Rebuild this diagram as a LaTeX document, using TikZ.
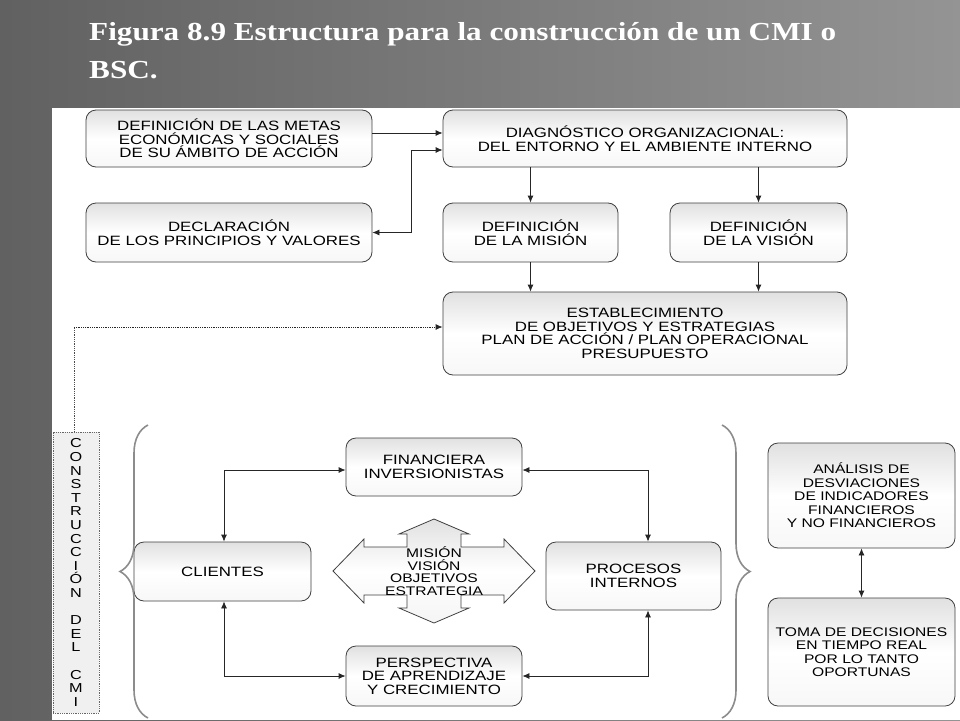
\documentclass[tikz,border=0pt]{standalone}
\usepackage{fontspec}
\setmainfont{Liberation Sans}
\newfontfamily\titlefont[FakeStretch=1.2]{Liberation Serif}
\newfontfamily\dfont[FakeStretch=1.25]{Liberation Sans}
\usetikzlibrary{arrows.meta,decorations.pathreplacing}
\tikzset{
  x=1pt,y=-1pt,
  box/.style={draw=black!75,line width=0.8pt,rounded corners=10pt,top color=black!12,bottom color=black!3,middle color=white,
    align=center,font=\dfont\fontsize{13.5}{13.5}\selectfont,inner sep=0pt},
  sbox/.style={box,font=\dfont\fontsize{12.5}{13.5}\selectfont},
  conn/.style={draw=black!85,line width=0.8pt,-{Latex[length=7pt,width=6pt]}},
  dconn/.style={draw=black!85,line width=0.8pt,{Latex[length=7pt,width=6pt]}-{Latex[length=7pt,width=6pt]}},
  brc/.style={draw=black!45,line width=1.6pt,decorate,decoration={brace,amplitude=28pt,aspect=0.5}}
}
\newcommand{\bx}[7][box]{\node[#1,minimum width=#5-#3,minimum height=#6-#4] (#2) at ({(#3+#5)/2},{(#4+#6)/2}) {#7};}
\begin{document}
\begin{tikzpicture}
\useasboundingbox (0,0) rectangle (960,720);
\shade[left color=black!62,right color=black!42] (0,0) rectangle (960,720);
\fill[white] (52,108) rectangle (960,720);
\node[anchor=north west,text=white,align=left,inner sep=0pt,font=\titlefont\bfseries\fontsize{26}{38}\selectfont] (title) at (89,22) {Figura 8.9 Estructura para la construcción de un CMI o\\BSC.};

\bx{metas}{86}{110}{372}{167}{DEFINICIÓN DE LAS METAS\\ECONÓMICAS Y SOCIALES\\DE SU ÁMBITO DE ACCIÓN}
\bx{diag}{443}{110}{847}{167}{DIAGNÓSTICO ORGANIZACIONAL:\\DEL ENTORNO Y EL AMBIENTE INTERNO}
\bx{decl}{86}{203}{372}{262}{DECLARACIÓN\\DE LOS PRINCIPIOS Y VALORES}
\bx{mis}{443}{203}{618}{262}{DEFINICIÓN\\DE LA MISIÓN}
\bx{vis}{670}{203}{847}{262}{DEFINICIÓN\\DE LA VISIÓN}
\bx{est}{443}{292}{847}{375}{ESTABLECIMIENTO\\DE OBJETIVOS Y ESTRATEGIAS\\PLAN DE ACCIÓN / PLAN OPERACIONAL\\PRESUPUESTO}

\bx{fin}{346}{438}{522}{496}{FINANCIERA\\INVERSIONISTAS}
\bx{cli}{134}{542}{311}{601}{CLIENTES}
\bx{pro}{546}{542}{721}{610}{PROCESOS\\INTERNOS}
\bx{per}{346}{646}{522}{706}{PERSPECTIVA\\DE APRENDIZAJE\\Y CRECIMIENTO}
\bx[sbox]{ana}{768}{443}{955}{548}{ANÁLISIS DE\\DESVIACIONES\\DE INDICADORES\\FINANCIEROS\\Y NO FINANCIEROS}
\bx[sbox]{toma}{768}{598}{955}{706}{TOMA DE DECISIONES\\EN TIEMPO REAL\\POR LO TANTO\\OPORTUNAS}

% vertical strip
\node[draw=black!60,densely dotted,line width=0.8pt,fill=black!6,minimum width=46pt,minimum height=281pt,
  align=center,inner sep=0pt,font=\dfont\fontsize{13}{13.6}\selectfont] (cmi) at (76,572.5)
  {C\\O\\N\\S\\T\\R\\U\\C\\C\\I\\Ó\\N\\[13.6pt]D\\E\\L\\[13.6pt]C\\M\\I};
\coordinate (dc) at (74,327);
\draw[densely dotted,line width=0.8pt,black!70] (cmi.north -| dc) -- (dc);
\draw[conn,densely dotted] (dc) -- (est.west |- dc);

% top arrows
\draw[conn] (metas.east |- 0,133) -- (diag.west |- 0,133);
\coordinate (j) at (411,150);
\draw[dconn] (decl.east) -- (j |- decl.east) -- (j) -- (diag.west |- j);
\draw[conn] (mis.north |- diag.south) -- (mis.north);
\draw[conn] (vis.north |- diag.south) -- (vis.north);
\draw[conn] (mis.south) -- (mis.south |- est.north);
\draw[conn] (vis.south) -- (vis.south |- est.north);

% bottom arrows
\coordinate (c1) at (224,470);
\coordinate (c2) at (648,470);
\coordinate (c3) at (224,676);
\coordinate (c4) at (648,676);
\draw[dconn] (cli.north -| c1) -- (c1) -- (fin.west |- c1);
\draw[dconn] (fin.east |- c2) -- (c2) -- (pro.north -| c2);
\draw[dconn] (cli.south -| c3) -- (c3) -- (per.west |- c3);
\draw[dconn] (per.east |- c4) -- (c4) -- (pro.south -| c4);
\draw[dconn] (ana.south) -- (toma.north);

% braces
\draw[brc] (148,718) -- (148,425);
\draw[brc] (722,425) -- (722,718);

% cross arrow
\begin{scope}[shift={(434,571)}]
\draw[draw=black!75,line width=0.8pt,top color=black!12,bottom color=black!4,middle color=white]
 (0,-52)--(35,-37)--(27,-37)--(27,-24)--(70,-24)--(70,-32)--(101,0)--(70,32)--(70,24)--(27,24)--(27,37)--(35,37)--(0,52)
 --(-35,37)--(-27,37)--(-27,24)--(-70,24)--(-70,32)--(-101,0)--(-70,-32)--(-70,-24)--(-27,-24)--(-27,-37)--(-35,-37)--cycle;
\end{scope}
\node[align=center,font=\dfont\fontsize{12.5}{12.5}\selectfont,inner sep=0pt] (mv) at (434,571) {MISIÓN\\VISIÓN\\OBJETIVOS\\ESTRATEGIA};
\end{tikzpicture}
\end{document}
